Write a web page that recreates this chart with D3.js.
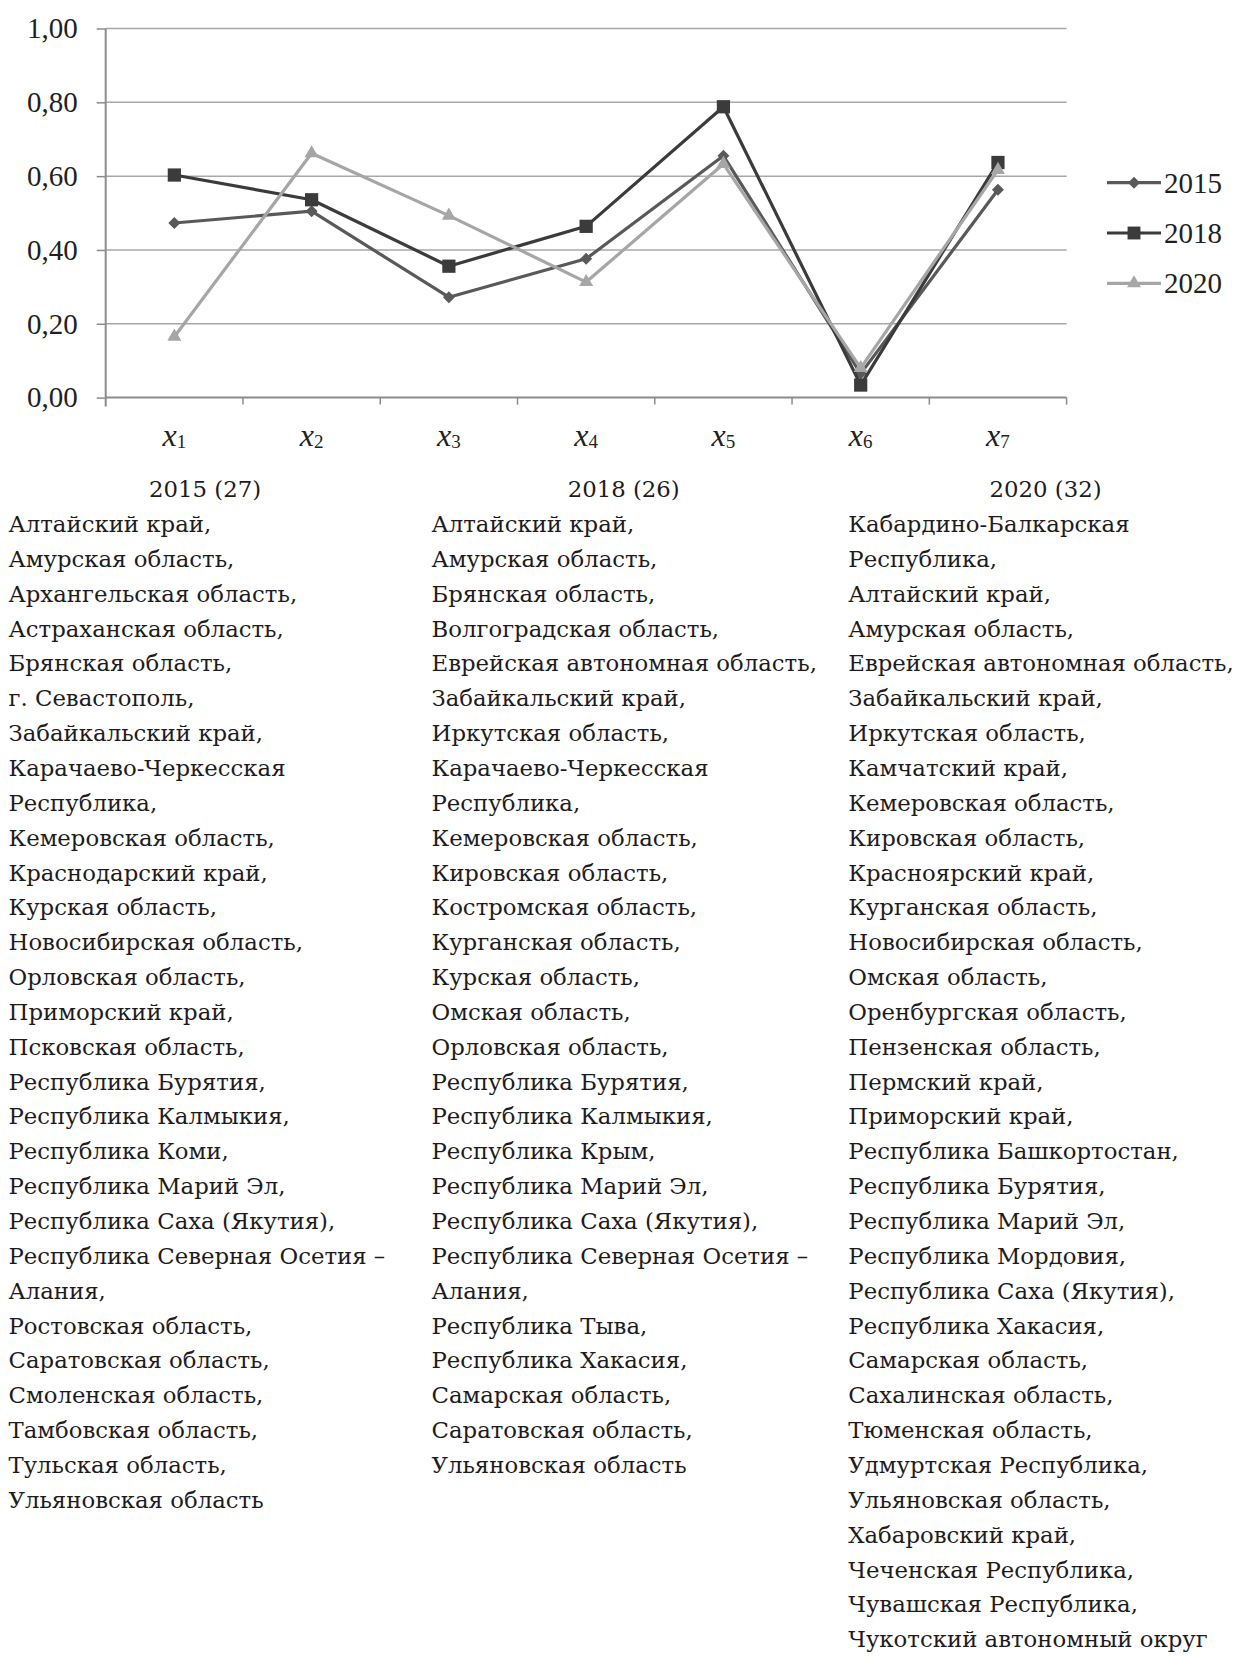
<!DOCTYPE html>
<html>
<head>
<meta charset="utf-8">
<script src="https://cdn.jsdelivr.net/npm/d3@7"></script>
<style>
  body { margin: 0; background: #fff; }
  svg { display: block; }
</style>
</head>
<body>
<script>

var categories = ["1", "2", "3", "4", "5", "6", "7"];
var yTicks = [0, 0.2, 0.4, 0.6, 0.8, 1.0];

var years = ["2015", "2018", "2020"];
var values2015 = [0.473, 0.505, 0.272, 0.376, 0.655, 0.065, 0.563];
var values2018 = [0.603, 0.536, 0.356, 0.464, 0.788, 0.034, 0.637];
var values2020 = [0.165, 0.662, 0.493, 0.313, 0.633, 0.080, 0.617];

var headers = ["2015 (27)", "2018 (26)", "2020 (32)"];

var list2015 = [
	"Алтайский край,",
	"Амурская область,",
	"Архангельская область,",
	"Астраханская область,",
	"Брянская область,",
	"г. Севастополь,",
	"Забайкальский край,",
	"Карачаево-Черкесская",
	"Республика,",
	"Кемеровская область,",
	"Краснодарский край,",
	"Курская область,",
	"Новосибирская область,",
	"Орловская область,",
	"Приморский край,",
	"Псковская область,",
	"Республика Бурятия,",
	"Республика Калмыкия,",
	"Республика Коми,",
	"Республика Марий Эл,",
	"Республика Саха (Якутия),",
	"Республика Северная Осетия –",
	"Алания,",
	"Ростовская область,",
	"Саратовская область,",
	"Смоленская область,",
	"Тамбовская область,",
	"Тульская область,",
	"Ульяновская область"
];

var list2018 = [
	"Алтайский край,",
	"Амурская область,",
	"Брянская область,",
	"Волгоградская область,",
	"Еврейская автономная область,",
	"Забайкальский край,",
	"Иркутская область,",
	"Карачаево-Черкесская",
	"Республика,",
	"Кемеровская область,",
	"Кировская область,",
	"Костромская область,",
	"Курганская область,",
	"Курская область,",
	"Омская область,",
	"Орловская область,",
	"Республика Бурятия,",
	"Республика Калмыкия,",
	"Республика Крым,",
	"Республика Марий Эл,",
	"Республика Саха (Якутия),",
	"Республика Северная Осетия –",
	"Алания,",
	"Республика Тыва,",
	"Республика Хакасия,",
	"Самарская область,",
	"Саратовская область,",
	"Ульяновская область"
];

var list2020 = [
	"Кабардино-Балкарская",
	"Республика,",
	"Алтайский край,",
	"Амурская область,",
	"Еврейская автономная область,",
	"Забайкальский край,",
	"Иркутская область,",
	"Камчатский край,",
	"Кемеровская область,",
	"Кировская область,",
	"Красноярский край,",
	"Курганская область,",
	"Новосибирская область,",
	"Омская область,",
	"Оренбургская область,",
	"Пензенская область,",
	"Пермский край,",
	"Приморский край,",
	"Республика Башкортостан,",
	"Республика Бурятия,",
	"Республика Марий Эл,",
	"Республика Мордовия,",
	"Республика Саха (Якутия),",
	"Республика Хакасия,",
	"Самарская область,",
	"Сахалинская область,",
	"Тюменская область,",
	"Удмуртская Республика,",
	"Ульяновская область,",
	"Хабаровский край,",
	"Чеченская Республика,",
	"Чувашская Республика,",
	"Чукотский автономный округ"
];

var series = [
	{ name: years[0], values: values2015, color: "#595959", shape: "diamond" },
	{ name: years[1], values: values2018, color: "#3b3b3b", shape: "square" },
	{ name: years[2], values: values2020, color: "#a6a6a6", shape: "triangle" }
];

var width = 1240, height = 1657;
var chartFont = "'Liberation Serif', serif";
var listFont = "'DejaVu Serif', serif";

var svg = d3.select("body").append("svg")
	.attr("width", width)
	.attr("height", height);

var x = d3.scaleBand()
	.domain(categories)
	.range([105.7, 1066.6]);

var y = d3.scaleLinear()
	.domain([0, 1])
	.range([397.6, 28.5]);

// grid lines
svg.append("g")
	.selectAll("line")
	.data(yTicks.slice(1))
	.enter()
	.append("line")
	.attr("x1", x.range()[0])
	.attr("x2", x.range()[1])
	.attr("y1", function(d) { return y(d); })
	.attr("y2", function(d) { return y(d); })
	.attr("stroke", "#a8a8a8")
	.attr("stroke-width", 1.5);

// y axis
var yAxis = d3.axisLeft(y)
	.tickValues(yTicks)
	.tickSize(9)
	.tickPadding(19)
	.tickFormat(function(d) { return d3.format(".2f")(d).replace(".", ","); });

var yG = svg.append("g")
	.attr("transform", "translate(" + x.range()[0] + ",0)")
	.call(yAxis);
yG.select(".domain").remove();
yG.append("line")
	.attr("y1", y(1))
	.attr("y2", y(0) + 9)
	.attr("stroke", "#8c8c8c")
	.attr("stroke-width", 2);
yG.selectAll(".tick line").attr("stroke", "#8c8c8c").attr("stroke-width", 1.5);
yG.selectAll(".tick text")
	.attr("font-family", chartFont)
	.attr("font-size", 29)
	.attr("fill", "#231f20");

// x axis with ticks at category boundaries
var boundaries = categories.map(function(c) { return x(c); }).concat([x.range()[1]]);
svg.append("line")
	.attr("x1", x.range()[0])
	.attr("x2", x.range()[1])
	.attr("y1", y(0))
	.attr("y2", y(0))
	.attr("stroke", "#8c8c8c")
	.attr("stroke-width", 2);
svg.append("g")
	.selectAll("line")
	.data(boundaries.slice(1))
	.enter()
	.append("line")
	.attr("x1", function(d) { return d; })
	.attr("x2", function(d) { return d; })
	.attr("y1", y(0))
	.attr("y2", y(0) + 7)
	.attr("stroke", "#8c8c8c")
	.attr("stroke-width", 1.5);

var xLabels = svg.append("g")
	.selectAll("text")
	.data(categories)
	.enter()
	.append("text")
	.attr("x", function(d) { return x(d) + x.bandwidth() / 2; })
	.attr("y", 446)
	.attr("text-anchor", "middle")
	.attr("font-family", chartFont)
	.attr("fill", "#231f20");
xLabels.append("tspan")
	.attr("font-size", 32)
	.attr("font-style", "italic")
	.text("x");
xLabels.append("tspan")
	.attr("font-size", 19)
	.attr("dy", 2)
	.text(function(d) { return d; });

// lines and markers
var line = d3.line()
	.x(function(d, i) { return x(categories[i]) + x.bandwidth() / 2; })
	.y(function(d) { return y(d); });

function markerPath(shape, scale)
{
	if (shape === "diamond") return d3.symbol().type(d3.symbolSquare).size(72 * scale)();
	if (shape === "square") return d3.symbol().type(d3.symbolSquare).size(175 * scale)();
	return d3.symbol().type(d3.symbolTriangle).size(85 * scale)();
}

series.forEach(function(s)
{
	var g = svg.append("g");
	g.append("path")
		.attr("d", line(s.values))
		.attr("fill", "none")
		.attr("stroke", s.color)
		.attr("stroke-width", 3.2)
		.attr("stroke-linejoin", "round");
	g.selectAll("path.marker")
		.data(s.values)
		.enter()
		.append("path")
		.attr("class", "marker")
		.attr("d", markerPath(s.shape, 1))
		.attr("fill", s.color)
		.attr("transform", function(d, i)
		{
			var t = "translate(" + (x(categories[i]) + x.bandwidth() / 2) + "," + y(d) + ")";
			return s.shape === "diamond" ? t + " rotate(45)" : t;
		});
});

// legend
var legend = svg.append("g")
	.selectAll("g")
	.data(series)
	.enter()
	.append("g")
	.attr("transform", function(d, i) { return "translate(1107," + (182.7 + i * 50.3) + ")"; });

legend.append("line")
	.attr("x1", 0)
	.attr("x2", 54)
	.attr("stroke", function(d) { return d.color; })
	.attr("stroke-width", 3.2);
legend.append("path")
	.attr("d", function(d) { return markerPath(d.shape, d.shape === "square" ? 0.95 : 1); })
	.attr("fill", function(d) { return d.color; })
	.attr("transform", function(d)
	{
		return d.shape === "diamond" ? "translate(27,0) rotate(45)" : "translate(27,0)";
	});
legend.append("text")
	.attr("x", 57)
	.attr("y", 10)
	.attr("font-family", chartFont)
	.attr("font-size", 29)
	.attr("fill", "#231f20")
	.text(function(d) { return d.name; });

// region lists
var columns = [
	{ header: headers[0], items: list2015, left: 8.5, center: 205 },
	{ header: headers[1], items: list2018, left: 431.5, center: 623.7 },
	{ header: headers[2], items: list2020, left: 848.3, center: 1045.5 }
];

var lineStep = 34.85;

var cols = svg.append("g")
	.selectAll("g")
	.data(columns)
	.enter()
	.append("g")
	.attr("font-family", listFont)
	.attr("font-size", 22.8)
	.attr("fill", "#1e1b1c");

cols.append("text")
	.attr("x", function(d) { return d.center; })
	.attr("y", 497)
	.attr("text-anchor", "middle")
	.text(function(d) { return d.header; });

cols.each(function(col)
{
	d3.select(this).selectAll("text.item")
		.data(col.items)
		.enter()
		.append("text")
		.attr("class", "item")
		.attr("x", col.left)
		.attr("y", function(d, i) { return 532 + i * lineStep; })
		.text(function(d) { return d; });
});

</script>
</body>
</html>
